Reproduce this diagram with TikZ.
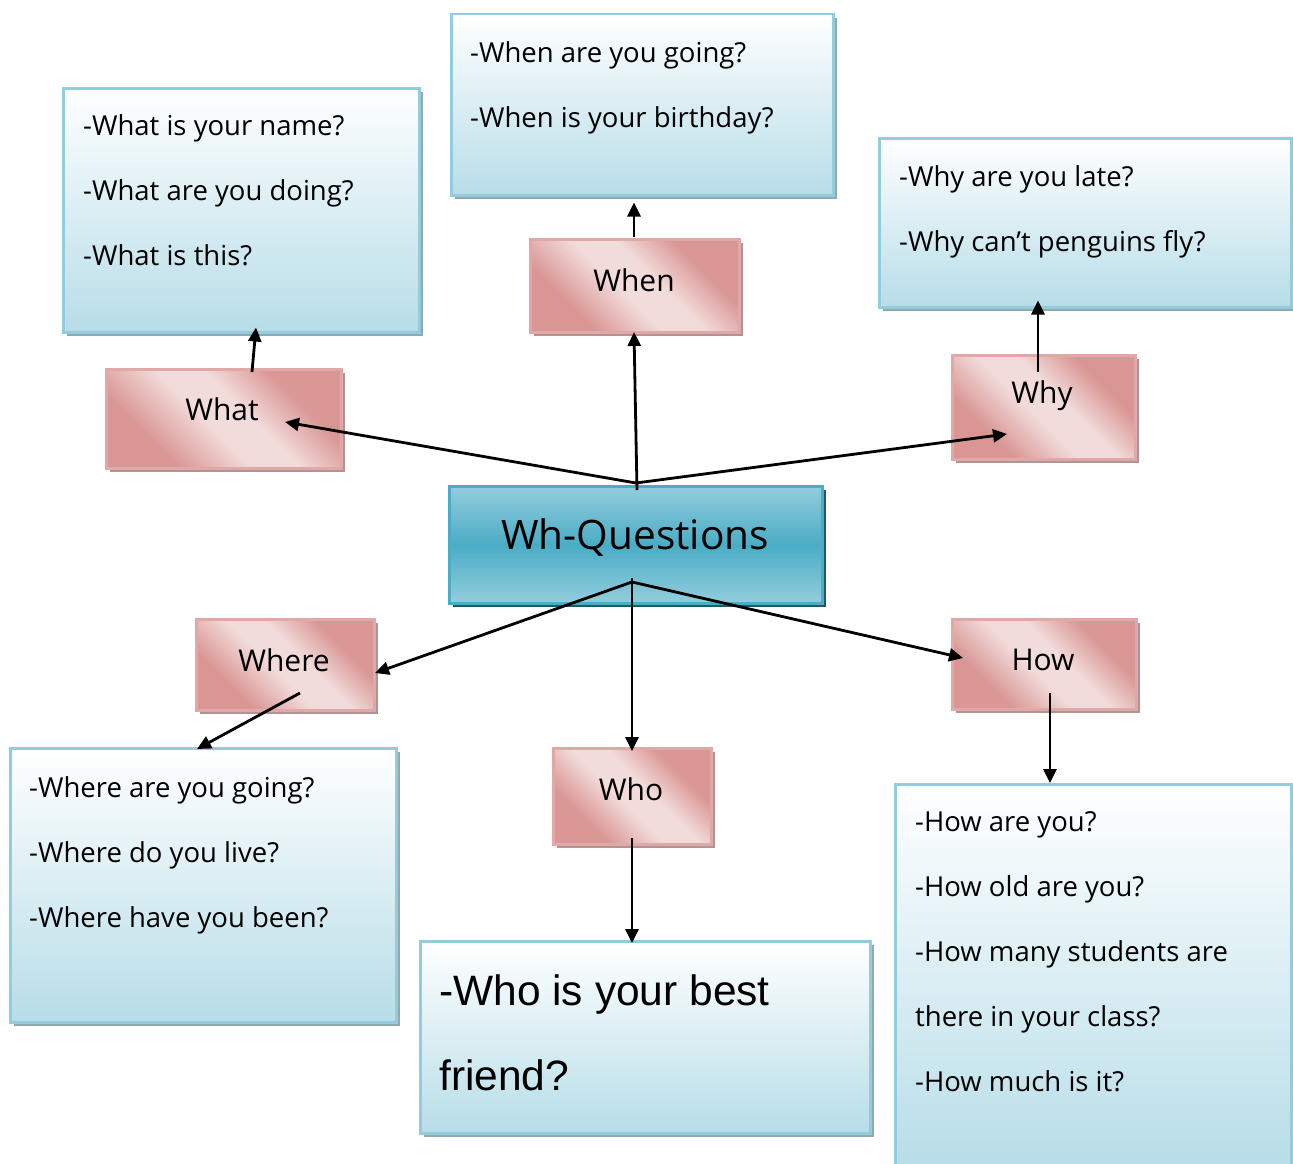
\documentclass[tikz,border=0pt]{standalone}
\usepackage{fontspec}
\setmainfont{Open Sans}
\newfontfamily\arialf{Liberation Sans}
\usetikzlibrary{shadows,arrows.meta,calc}
\definecolor{bborder}{HTML}{93CDDD}
\definecolor{bbottom}{HTML}{B7DDE8}
\definecolor{pdark}{HTML}{D99694}
\definecolor{plight}{HTML}{F2DCDB}
\definecolor{pborder}{HTML}{E0A9A8}
\definecolor{cmid}{HTML}{4BACC6}
\definecolor{ctop}{HTML}{93CDDD}
\definecolor{cshadow}{HTML}{215968}
\definecolor{bshadow}{HTML}{8FA9AF}
\definecolor{pshadow}{HTML}{B09494}
\pgfdeclareverticalshading{centershade}{100bp}{color(0bp)=(ctop); color(25bp)=(ctop); color(50bp)=(cmid); color(75bp)=(ctop); color(100bp)=(ctop)}
\pgfdeclareverticalshading{pinkshade}{100bp}{color(0bp)=(pdark); color(30bp)=(pdark); color(46bp)=(plight); color(56bp)=(plight); color(70bp)=(pdark); color(100bp)=(pdark)}
\tikzset{
  x=1pt,y=-1pt,
  bluebox/.style={draw=bborder,line width=2.5,top color=white,bottom color=bbottom,
    drop shadow={shadow xshift=4pt,shadow yshift=-4pt,fill=bshadow,opacity=1}},
  pinkbox/.style={draw=pborder,line width=2.5,shading=pinkshade,shading angle=-45,
    drop shadow={shadow xshift=4pt,shadow yshift=-4pt,fill=pshadow,opacity=1}},
  qtext/.style={anchor=north west,align=left,inner sep=0pt,font=\fontsize{27.5}{65}\selectfont},
  ptext/.style={font=\fontsize{30}{30}\selectfont},
  arr/.style={line width=2.8,-{Triangle[length=14,width=13]}},
}
\newcommand{\boxat}[6]{\node[#1,anchor=north west,minimum width=#4,minimum height=#5,inner sep=0pt] (#2) at #3 {#6};}
\begin{document}
\begin{tikzpicture}
\useasboundingbox (0,0) rectangle (1293,1164);
% blue answer boxes
\boxat{bluebox}{whatq}{(62,87)}{356}{244}{}
\boxat{bluebox}{whenq}{(450,13)}{382}{181}{}
\boxat{bluebox}{whyq}{(878,137)}{412}{169}{}
\boxat{bluebox}{whereq}{(9,747)}{386}{274}{}
\boxat{bluebox}{whoq}{(419,940)}{450}{192}{}
\boxat{bluebox}{howq}{(894,783)}{396}{385}{}
\node[qtext] (whatt) at ($(whatq.north west)+(21,27)$) {-What is your name?\\-What are you doing?\\-What is this?};
\node[qtext] (whent) at ($(whenq.north west)+(20,28)$) {-When are you going?\\-When is your birthday?};
\node[qtext] (whyt) at ($(whyq.north west)+(21,28)$) {-Why are you late?\\-Why can’t penguins fly?};
\node[qtext] (wheret) at ($(whereq.north west)+(20,29)$) {-Where are you going?\\-Where do you live?\\-Where have you been?};
\node[qtext] (howt) at ($(howq.north west)+(21,28)$) {-How are you?\\-How old are you?\\-How many students are\\there in your class?\\-How much is it?};
\node[qtext,font=\arialf\fontsize{42.5}{85}\selectfont] (whot) at ($(whoq.north west)+(20,34)$) {-Who is your best\\friend?};
% pink boxes
\boxat{pinkbox}{what}{(105,368)}{235}{99}{}
\boxat{pinkbox}{when}{(529,238)}{209}{93}{}
\boxat{pinkbox}{why}{(951,354)}{183}{104}{}
\boxat{pinkbox}{where}{(195,618)}{178}{91}{}
\boxat{pinkbox}{who}{(552,747)}{158}{96}{}
\boxat{pinkbox}{how}{(951,618)}{184}{90}{}
\node[ptext] (whatl) at (222,409) {What};
\node[ptext] (whenl) at (634,280) {When};
\node[ptext] (whyl) at (1042,396) {Why};
\node[ptext] (wherel) at (284,660) {Where};
\node[ptext] (whol) at (631,789) {Who};
\node[ptext] (howl) at (1043,660) {How};
% center
\boxat{draw=cmid,line width=2.5,shading=centershade,
  drop shadow={shadow xshift=4pt,shadow yshift=-4pt,fill=cshadow,opacity=1}}{center}{(448,485)}{373}{117}{}
\node[font=\fontsize{40.6}{40.6}\selectfont] (centerl) at (635,538) {Wh-Questions};
% connector points
\coordinate (ct) at (636,483);
\coordinate (cb) at (632,582);
\coordinate (whatin) at (285,422);
\coordinate (whenin) at (634,332);
\coordinate (whyin) at (1007,434);
\coordinate (wherein) at (375,673);
\coordinate (whoin) at (632,751);
\coordinate (howin) at (963,658);
\coordinate (whatup) at (252,372);
\coordinate (whenup) at (634,237);
\coordinate (whyup) at (1038,372);
\coordinate (wheredn) at (300,693);
\coordinate (whodn) at (632,838);
\coordinate (howdn) at (1050,693);
\draw[arr] (ct) -- (whatin);
\draw[arr] ($(ct)+(1,7)$) -- (whenin);
\draw[arr] (ct) -- (whyin);
\draw[arr] (cb) -- (wherein);
\draw[arr] ($(cb)+(0,-4)$) -- (whoin);
\draw[arr] (cb) -- (howin);
\draw[arr] (whatup) -- ($(whatq.south west)+(194,-6)$);
\draw[arr] (whenup) -- ($(whenq.south west)+(184,6)$);
\draw[arr] (whyup) -- ($(whyq.south west)+(160,-8)$);
\draw[arr] (wheredn) -- ($(whereq.north west)+(188,2)$);
\draw[arr] (whodn) -- ($(whoq.north west)+(213,3)$);
\draw[arr] (howdn) -- ($(howq.north west)+(156,0)$);
\end{tikzpicture}
\end{document}
